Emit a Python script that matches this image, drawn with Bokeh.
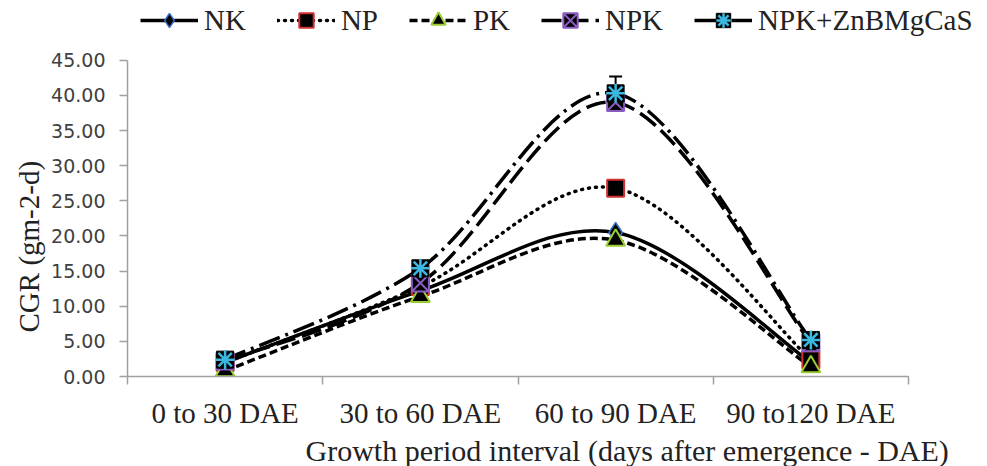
import numpy as np
from bokeh.plotting import figure
from bokeh.models import (Range1d, FixedTicker, Legend, LegendItem, ColumnDataSource,
                          Whisker, TeeHead, NumeralTickFormatter, Title)
from bokeh.embed import file_html
from bokeh.resources import INLINE

categories = ["0 to 30 DAE", "30 to 60 DAE", "60 to 90 DAE", "90 to120 DAE"]
series_names = ["NK", "NP", "PK", "NPK", "NPK+ZnBMgCaS"]
nk = [2.0, 12.2, 20.5, 2.0]
np_vals = [2.0, 12.8, 26.8, 2.4]
pk = [0.8, 11.4, 19.4, 1.4]
npk = [2.2, 13.3, 39.0, 4.8]
npk_zn = [2.4, 15.4, 40.3, 5.2]
err_zn = [0.3, 0.5, 2.4, 0.4]
y_ticks = [0, 5, 10, 15, 20, 25, 30, 35, 40, 45]

x_pos = [0.5, 1.5, 2.5, 3.5]

# frame fills the canvas above/right so the legend can sit inside it
p = figure(width=987, height=466, output_backend="svg", toolbar_location=None,
           x_range=Range1d(0, 4 * 860 / 781), y_range=Range1d(0, 45 * 377 / 317),
           min_border_left=127, min_border_right=0, min_border_bottom=89, min_border_top=0)
p.grid.visible = False
p.outline_line_color = None
p.background_fill_color = "white"
p.border_fill_color = "white"

serif = "Liberation Serif"
sans = "DejaVu Sans"

# x axis
xa = p.xaxis[0]
xa.bounds = (0, 4)
xa.ticker = FixedTicker(ticks=x_pos, minor_ticks=[0, 1, 2, 3, 4])
xa.major_label_overrides = {x: c for x, c in zip(x_pos, categories)}
xa.major_tick_out = 0
xa.major_tick_in = 0
xa.minor_tick_out = 8
xa.minor_tick_in = 0
xa.minor_tick_line_color = "#a0a0a0"
xa.minor_tick_line_width = 1.5
xa.axis_line_color = "#a0a0a0"
xa.axis_line_width = 1.5
xa.major_label_text_font = serif
xa.major_label_text_font_size = "29px"
xa.major_label_text_color = "#222222"
xa.major_label_standoff = 12

# y axis
ya = p.yaxis[0]
ya.bounds = (0, 45)
ya.ticker = FixedTicker(ticks=y_ticks)
ya.formatter = NumeralTickFormatter(format="0.00")
ya.minor_tick_line_color = None
ya.major_tick_out = 8
ya.major_tick_in = 0
ya.major_tick_line_color = "#a0a0a0"
ya.major_tick_line_width = 1.5
ya.axis_line_color = "#a0a0a0"
ya.axis_line_width = 1.5
ya.major_label_text_font = sans
ya.major_label_text_font_size = "19px"
ya.major_label_text_color = "#404040"
ya.major_label_standoff = 14

p.add_layout(Title(text="Growth period interval (days after emergence - DAE)", align="left",
                   offset=178, text_font=serif, text_font_style="normal",
                   text_font_size="30px", text_color="#222222", standoff=0), "below")
p.add_layout(Title(text="CGR (gm-2-d)", align="left",
                   offset=44, text_font=serif, text_font_style="normal",
                   text_font_size="29px", text_color="#222222", standoff=7), "left")


def bezier_source(ys):
    n = len(ys)
    pts = list(zip(x_pos, ys))
    d = dict(x0=[], y0=[], x1=[], y1=[], cx0=[], cy0=[], cx1=[], cy1=[])
    for i in range(n - 1):
        p0 = pts[max(i - 1, 0)]
        p1 = pts[i]
        p2 = pts[i + 1]
        p3 = pts[min(i + 2, n - 1)]
        d["x0"].append(p1[0]); d["y0"].append(p1[1])
        d["x1"].append(p2[0]); d["y1"].append(p2[1])
        d["cx0"].append(p1[0] + (p2[0] - p0[0]) / 6); d["cy0"].append(p1[1] + (p2[1] - p0[1]) / 6)
        d["cx1"].append(p2[0] - (p3[0] - p1[0]) / 6); d["cy1"].append(p2[1] - (p3[1] - p1[1]) / 6)
    return ColumnDataSource(d)


styles = [
    dict(dash="solid", width=3.5, cap="butt"),
    dict(dash="1 6", width=3.5, cap="round"),
    dict(dash="8 4", width=3.5, cap="butt"),
    dict(dash="20 7", width=3.5, cap="butt"),
    dict(dash="22 6 3 6", width=3.5, cap="butt"),
]
data = [nk, np_vals, pk, npk, npk_zn]

line_rs = []
for name, ys, st in zip(series_names, data, styles):
    src = bezier_source(ys)
    p.bezier(x0="x0", y0="y0", x1="x1", y1="y1", cx0="cx0", cy0="cy0", cx1="cx1", cy1="cy1",
             source=src, line_color="black", line_width=st["width"], line_dash=st["dash"],
             line_cap=st["cap"])
    lr = p.line(x=[np.nan, np.nan], y=[np.nan, np.nan], line_color="black",
                line_width=st["width"], line_dash=st["dash"], line_cap=st["cap"])
    line_rs.append(lr)

# error bars for NPK+ZnBMgCaS
lower = [v - e for v, e in zip(npk_zn, err_zn)]
upper = [v + e for v, e in zip(npk_zn, err_zn)]
esrc = ColumnDataSource(dict(x=x_pos, lower=lower, upper=upper))
p.add_layout(Whisker(source=esrc, base="x", lower="lower", upper="upper", line_color="black",
                     line_width=2,
                     upper_head=TeeHead(size=13, line_color="black", line_width=2),
                     lower_head=TeeHead(size=13, line_color="black", line_width=2)))

# markers
m_nk = p.scatter(x_pos, nk, marker="diamond", size=20, fill_color="black", line_color="#3a6fc4", line_width=1.5)
m_np = p.scatter(x_pos, np_vals, marker="square", size=17, fill_color="black", line_color="#d03030", line_width=2)
m_pk = p.scatter(x_pos, pk, marker="triangle", size=19, fill_color="black", line_color="#9acd32", line_width=2)
m_npk = p.scatter(x_pos, npk, marker="square_x", size=17, fill_color="black", line_color="#8a5cc0", line_width=2)
m_zn_sq = p.scatter(x_pos, npk_zn, marker="square", size=17, fill_color="black", line_color="black", line_width=1)
m_zn = p.scatter(x_pos, npk_zn, marker="asterisk", size=19, line_color="#3cb8e0", line_width=2.5)

items = [
    LegendItem(label="NK", renderers=[line_rs[0], m_nk]),
    LegendItem(label="NP", renderers=[line_rs[1], m_np]),
    LegendItem(label="PK", renderers=[line_rs[2], m_pk]),
    LegendItem(label="NPK", renderers=[line_rs[3], m_npk]),
    LegendItem(label="NPK+ZnBMgCaS", renderers=[line_rs[4], m_zn_sq, m_zn]),
]
legend = Legend(items=items, orientation="horizontal", location=(13, 338),
                label_text_font=serif, label_text_font_size="29px", label_text_color="#222222",
                glyph_width=58, glyph_height=36, label_height=20, spacing=31, padding=0, margin=0,
                label_standoff=6, border_line_color=None, background_fill_alpha=0)
p.add_layout(legend)

open("out.html", "w").write(file_html(p, INLINE))
